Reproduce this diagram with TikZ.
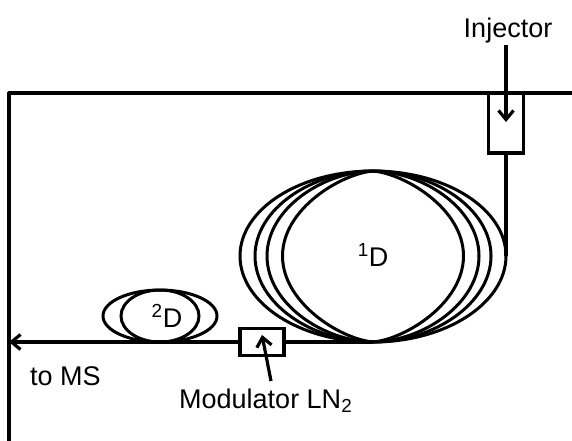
\documentclass[tikz,border=0pt]{standalone}
\usepackage{fontspec}
\setmainfont{Liberation Sans}
\usetikzlibrary{arrows.meta}
\tikzset{
  pipe/.style={line width=3.2pt,line join=round},
  coil/.style={line width=3pt,line join=round},
  barb/.style={pipe,-{Straight Barb[length=9pt,width=15pt,line width=3.2pt]}},
  boxpart/.style={draw,line width=3.2pt,fill=white,inner sep=0pt,outer sep=0pt,anchor=north west},
  lbl/.style={inner sep=0pt,font=\fontsize{27}{30}\selectfont},
}
\newcommand{\lens}[3]{% half-width, k-factor, vertical control offset
  \draw[coil] (373,171) .. controls ({373+#1*#2},171+#3) and ({373+#1},{256-47}) .. ({373+#1},256)
    .. controls ({373+#1},{256+47}) and ({373+#1*#2},342-#3) .. (373,342)
    .. controls ({373-#1*#2},342-#3) and ({373-#1},{256+47}) .. ({373-#1},256)
    .. controls ({373-#1},{256-47}) and ({373-#1*#2},171+#3) .. (373,171);
}
\begin{document}
\begin{tikzpicture}[x=1pt,y=-1pt]
\useasboundingbox (0,0) rectangle (572,441);
\fill[white] (0,0) rectangle (572,441);
% frame
\coordinate (tl) at (9,93);
\coordinate (tr) at (572,93);
\coordinate (bl) at (9,441);
\draw[pipe] (bl) -- (tl) -- (tr);
% coils
\lens{133}{0.55}{0}
\lens{118}{0.52}{0}
\lens{106}{0.48}{1}
\lens{90.5}{0.36}{3}
\draw[coil] (160,316) ellipse [x radius=57,y radius=26];
\draw[coil] (160,316) ellipse [x radius=39,y radius=26];
% fibre
\coordinate (fibtop) at (506,256);
\coordinate (fibbot) at (373,342);
\coordinate (ms) at (9,342);
\node[boxpart,minimum width=35pt,minimum height=60pt] (inj) at (488.5,93) {};
\node[boxpart,minimum width=44pt,minimum height=27pt] (mod) at (240,328.5) {};
\draw[pipe] (inj.south) -- (fibtop);
\draw[pipe] (fibbot) -- (mod.east);
\draw[barb] (mod.west) -- (ms);
% labels
\node[lbl,anchor=base] (injl) at (508,38) {Injector};
\node[lbl,anchor=base west] (modl) at (179,408) {Modulator LN\textsubscript{2}};
\node[lbl,anchor=base west] at (30,385) {to MS};
\node[lbl,anchor=base] at (373,266) {\textsuperscript{1}D};
\node[lbl,anchor=base] at (167,327) {\textsuperscript{2}D};
% pointers
\coordinate (injtip) at (506,122);
\coordinate (modtip) at (262,335);
\coordinate (modtail) at (271,381);
\draw[barb] (506,45) -- (injtip);
\draw[barb] (modtail) -- (modtip);
\end{tikzpicture}
\end{document}
